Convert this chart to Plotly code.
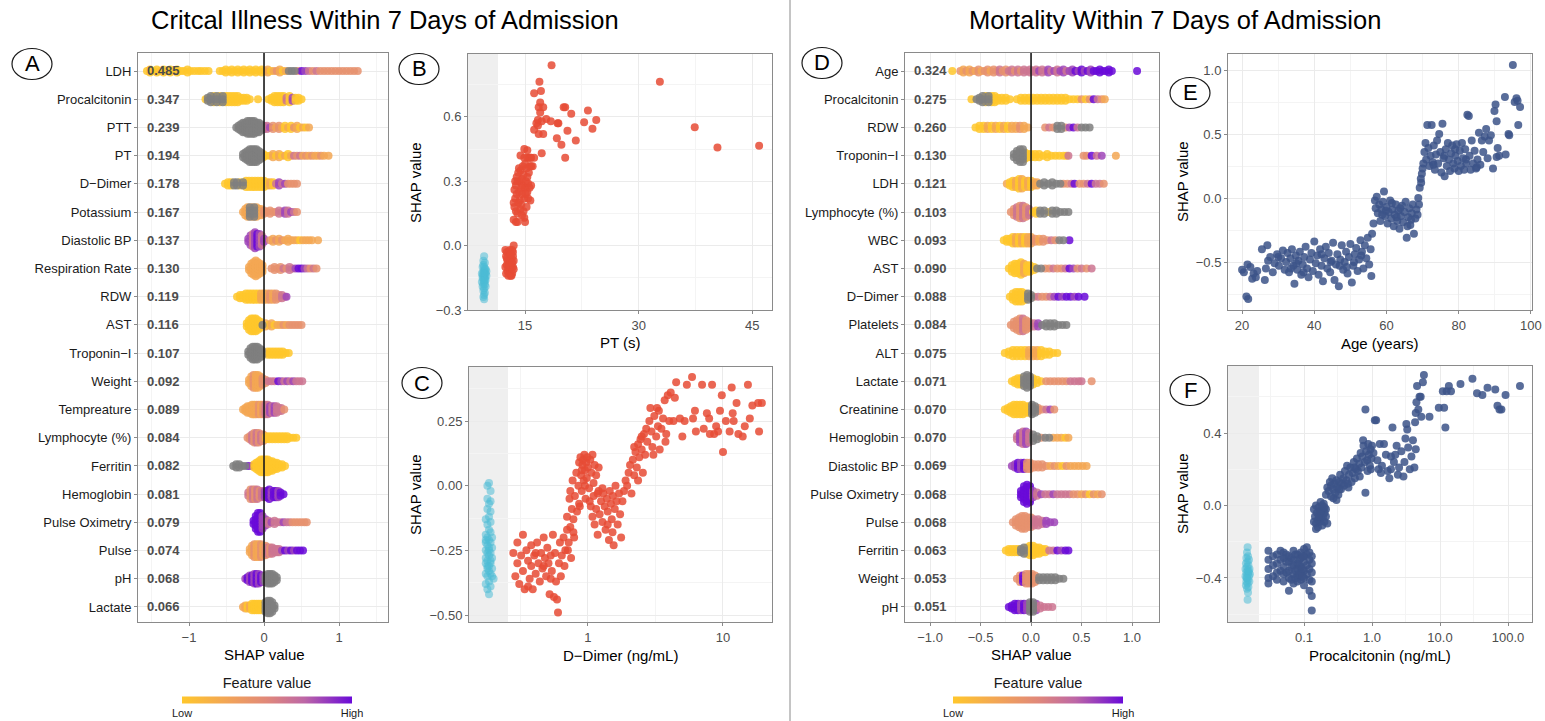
import re
import plotly.graph_objects as go

W, H = 1545, 721

# ------------------------------------------------------------------ data
A_features = ["LDH", "Procalcitonin", "PTT", "PT", "D\u2212Dimer", "Potassium", "Diastolic BP",
              "Respiration Rate", "RDW", "AST", "Troponin\u2212I", "Weight", "Tempreature",
              "Lymphocyte (%)", "Ferritin", "Hemoglobin", "Pulse Oximetry", "Pulse", "pH", "Lactate"]
A_importance = ["0.485", "0.347", "0.239", "0.194", "0.178", "0.167", "0.137", "0.130", "0.119", "0.116",
                "0.107", "0.092", "0.089", "0.084", "0.082", "0.081", "0.079", "0.074", "0.068", "0.066"]
# token = SHAP value + feature-value level letter (y,o,s,p,v,u ; g = missing) + count
A_points = [
    "-1.56y -1.52y2 -1.47y -1.43y2 -1.38y -1.34y2 -1.29y -1.25y2 -1.20y -1.16y2 -1.11y -1.07y -1.02y2 -0.98y -0.93y -0.88y -0.84y -0.79y -0.74y -0.59y -0.55y -0.51y2 -0.47y -0.43y2 -0.39y -0.35y2 -0.31y -0.27y2 -0.23y -0.19y2 -0.15y -0.11y2 -0.07y -0.03y2 0.01y 0.05o2 0.09y 0.13o 0.17s 0.21o2 0.25y 0.29o 0.33g 0.37g 0.41g 0.45s 0.50u 0.55v 0.60p 0.65s 0.70p 0.75s 0.80s 0.85s 0.90s 0.95s 1.00s 1.05s 1.10s 1.15s 1.20s 1.25s",
    "-0.78y -0.75g2 -0.71g3 -0.67y3 -0.63g3 -0.59y3 -0.55g3 -0.51y3 -0.47y3 -0.43y3 -0.39y3 -0.35y3 -0.31y2 -0.27y2 -0.23y2 -0.19y -0.08y 0.06y 0.10y2 0.14y3 0.18y3 0.22y3 0.26y3 0.30p2 0.34y3 0.38v2 0.42y2 0.46y2 0.50y",
    "-0.37g -0.34g2 -0.31g3 -0.28g4 -0.25g4 -0.22g5 -0.19g5 -0.16g5 -0.13g5 -0.10g4 -0.07g4 -0.04g3 0.00v2 0.04p2 0.08v 0.12s2 0.16o 0.20s2 0.24o 0.28y2 0.32o 0.36y2 0.40s 0.44o2 0.48y 0.52o 0.56y 0.60o",
    "-0.28g2 -0.25g3 -0.22g4 -0.19g5 -0.16g5 -0.13g5 -0.10g5 -0.07g4 -0.04g3 -0.01y2 0.03y 0.08y 0.12o2 0.16y 0.20o2 0.24y 0.28o 0.32y2 0.36o 0.40p 0.44s 0.48p 0.52o 0.56s 0.60o 0.64s 0.68o 0.72o 0.76s 0.80o 0.86o",
    "-0.52y -0.48y2 -0.44y2 -0.40g2 -0.36g2 -0.32y2 -0.28g2 -0.24y3 -0.20y3 -0.16y3 -0.12y3 -0.08y3 -0.04y3 0.00y3 0.04y2 0.08o2 0.12y2 0.16p 0.20v2 0.24p 0.28v 0.32s 0.36s 0.40s 0.44s",
    "-0.28o -0.25o3 -0.22o4 -0.19g4 -0.16o4 -0.13g4 -0.10o4 -0.07o3 -0.04o3 0.00s2 0.04s 0.08s2 0.12s 0.16s 0.20p2 0.24p 0.28v2 0.32p2 0.36v 0.40p 0.44s",
    "-0.21v2 -0.18v4 -0.15p5 -0.12v6 -0.09u5 -0.06v5 -0.03p4 0.00v2 0.08s 0.12o2 0.16s 0.20o2 0.24s 0.28o 0.32o2 0.36o 0.40o 0.44o 0.48y 0.52o 0.56o 0.60o 0.64o 0.72o",
    "-0.20o2 -0.17o4 -0.14o5 -0.11o6 -0.08o5 -0.05o4 -0.02o3 0.10s 0.14s2 0.18s 0.22s2 0.26p 0.30s 0.34p2 0.38p 0.42v 0.46u 0.50u 0.54v 0.58p 0.62s 0.66p 0.70s",
    "-0.36y -0.32y2 -0.28y2 -0.24y3 -0.20y3 -0.16y3 -0.12y3 -0.08y3 -0.04o3 0.00o3 0.04o3 0.08s3 0.12o3 0.16s3 0.20s2 0.24p2 0.28p 0.30v",
    "-0.23y2 -0.20y4 -0.17y5 -0.14y5 -0.11y5 -0.08y4 -0.05y3 -0.02g 0.02o2 0.06y 0.10o2 0.14y 0.18o 0.22o 0.26s 0.30o 0.34s 0.38s 0.42s 0.46s 0.50s",
    "-0.21g2 -0.18g4 -0.15g5 -0.12g5 -0.09g5 -0.06g4 -0.03g3 0.01p 0.05y2 0.09y2 0.13y2 0.17y2 0.21y2 0.25y2 0.29y 0.33y",
    "-0.20o2 -0.17o4 -0.14s5 -0.11o5 -0.08o5 -0.05o4 -0.02s3 0.02s2 0.06p 0.10p 0.14p 0.19u 0.23v 0.27p 0.31v 0.35p 0.39v 0.43p 0.47p 0.51p",
    "-0.28o -0.25o2 -0.22o3 -0.19o3 -0.16o4 -0.13o4 -0.10o4 -0.07s4 -0.04o4 -0.01s4 0.02p4 0.05p4 0.08v3 0.11p3 0.14v3 0.17p3 0.20p2 0.23p2 0.27s",
    "-0.22s -0.19s2 -0.16p3 -0.13s4 -0.10p4 -0.07s4 -0.04p3 -0.01s3 0.03y2 0.07y2 0.11y2 0.15y2 0.19y2 0.23y2 0.27y2 0.31y2 0.35y 0.39y 0.43y",
    "-0.41g -0.37g2 -0.33g2 -0.29g -0.25g -0.21u -0.17v -0.13y2 -0.10y3 -0.07y4 -0.04y5 -0.01y5 0.02y5 0.05y5 0.08y4 0.11y4 0.14y3 0.17y3 0.20y2 0.24y2 0.28y",
    "-0.21p2 -0.18s4 -0.15p4 -0.12s4 -0.09p4 -0.06s3 -0.03p3 0.01v3 0.04u3 0.07u4 0.10v3 0.13u3 0.16u3 0.19v3 0.22u2 0.26u",
    "-0.14u2 -0.11u5 -0.08u7 -0.05u7 -0.02v5 0.02v3 0.06p2 0.10v 0.14p2 0.18p 0.22p 0.26v 0.30p 0.34p 0.38s 0.42s 0.46s 0.50s 0.54s 0.57s",
    "-0.19o2 -0.16o4 -0.13s5 -0.10o5 -0.07o5 -0.04s5 -0.01o4 0.02s4 0.05p3 0.08s3 0.11p3 0.14p2 0.17p2 0.20p2 0.24v 0.28u 0.32v 0.36u 0.40v 0.44u 0.48u 0.52u",
    "-0.25v -0.22u2 -0.19v3 -0.16u3 -0.13v4 -0.10u4 -0.07v4 -0.04u3 -0.01v3 0.02g3 0.05g4 0.08g4 0.11g4 0.14g3 0.17g2",
    "-0.28o -0.25o2 -0.22y2 -0.19o2 -0.16y3 -0.13y3 -0.10y3 -0.07y3 -0.04y3 -0.01y2 0.02g4 0.05g5 0.08g5 0.11g4 0.14g2",
]

D_features = ["Age", "Procalcitonin", "RDW", "Troponin\u2212I", "LDH", "Lymphocyte (%)", "WBC", "AST",
              "D\u2212Dimer", "Platelets", "ALT", "Lactate", "Creatinine", "Hemoglobin", "Diastolic BP",
              "Pulse Oximetry", "Pulse", "Ferritin", "Weight", "pH"]
D_importance = ["0.324", "0.275", "0.260", "0.130", "0.121", "0.103", "0.093", "0.090", "0.088", "0.084",
                "0.075", "0.071", "0.070", "0.070", "0.069", "0.068", "0.068", "0.063", "0.053", "0.051"]
D_points = [
    "-0.78y -0.70s -0.67o2 -0.64s -0.61o2 -0.58s -0.55o -0.52s2 -0.49o -0.46s -0.43s2 -0.40o -0.37s2 -0.34s -0.31p2 -0.28s -0.25s2 -0.22p -0.19p2 -0.16s -0.13p2 -0.10s -0.07p2 -0.04p -0.01p2 0.02p 0.05p2 0.08v 0.11p2 0.14p 0.17v2 0.20p 0.23v 0.26p2 0.29v 0.32v2 0.35p 0.38v 0.41v2 0.44u 0.47v 0.50u2 0.53v 0.56u 0.59v2 0.62u 0.65u 0.68u2 0.71u 0.74u 0.77u2 0.80u 1.05u",
    "-0.59y -0.54g -0.51g2 -0.48g3 -0.45y3 -0.42g3 -0.39y3 -0.36y3 -0.33y2 -0.29y2 -0.25y2 -0.21y -0.14y -0.10y2 -0.06y2 -0.02y2 0.02y2 0.06y2 0.10y2 0.14y2 0.18y2 0.22y2 0.26y2 0.30y2 0.34y2 0.38y 0.42y 0.46y 0.50s 0.54y 0.58s 0.62u 0.66p 0.70s 0.73o",
    "-0.55y -0.51y2 -0.47y2 -0.43o2 -0.39y2 -0.35o2 -0.31y2 -0.27o2 -0.23y2 -0.19o2 -0.15o2 -0.11s2 -0.07o2 -0.03o 0.14s 0.18p 0.22s 0.26g2 0.30g2 0.34s 0.38v 0.42u 0.46p 0.50g 0.54g 0.58g",
    "-0.17g2 -0.14g4 -0.11g5 -0.08g5 -0.06y3 -0.03y2 0.00y2 0.04y2 0.08y2 0.12y 0.16y2 0.20y 0.24y 0.28y 0.32y 0.35y 0.37p 0.52s 0.55s 0.60u 0.65p 0.70v 0.84o",
    "-0.24o -0.21y2 -0.18y3 -0.15o3 -0.12y4 -0.09o4 -0.06y3 -0.03o3 0.00y3 0.03o2 0.06o2 0.09g 0.13g2 0.17g 0.21g2 0.25g 0.29g 0.32s 0.36s 0.40p 0.43u 0.48s 0.52s 0.56p 0.60u 0.64p 0.68p 0.72s",
    "-0.20s -0.17s3 -0.14p4 -0.11s5 -0.08p5 -0.05s4 -0.02p3 0.02y 0.05y2 0.09g2 0.13g2 0.17y 0.21g2 0.25g2 0.29g 0.33g 0.37g",
    "-0.27y -0.24y2 -0.21y2 -0.18y3 -0.15o3 -0.12y3 -0.09o3 -0.06y3 -0.03o3 0.00o3 0.04s2 0.08o2 0.12s2 0.16s 0.20p 0.24s 0.28g 0.32g 0.38u",
    "-0.22y -0.19y3 -0.16y4 -0.13y4 -0.10y5 -0.07o4 -0.04y3 -0.01y3 0.03y2 0.06g 0.10g 0.14s 0.18s 0.22p 0.26s 0.30s 0.34p 0.38u 0.42v 0.46s 0.50p 0.55s 0.60p",
    "-0.21y -0.18y3 -0.15y4 -0.12y4 -0.09y4 -0.06y3 -0.03g3 0.00g2 0.03s 0.07p 0.11s 0.15s 0.19p 0.23v 0.27u 0.31v 0.35u 0.39u 0.43v 0.47u 0.53u",
    "-0.20s -0.17s3 -0.14s4 -0.11s5 -0.08p5 -0.05s4 -0.02s3 0.03p2 0.07v2 0.11g 0.15g2 0.19g2 0.23g2 0.27g 0.31g 0.35g",
    "-0.26y -0.22y2 -0.18y3 -0.14y3 -0.10y3 -0.06y3 -0.02o3 0.02o3 0.06o3 0.10y3 0.14y2 0.18y2 0.22y 0.26y",
    "-0.19y -0.16y2 -0.13y3 -0.10y3 -0.07g4 -0.04g5 -0.01g4 0.02y3 0.06y2 0.10y 0.15s 0.19s 0.23s 0.27s 0.31s 0.35s 0.39p 0.43p 0.47p 0.50p 0.60s",
    "-0.26y -0.23y2 -0.20y3 -0.17y4 -0.14y4 -0.11y4 -0.08y4 -0.05y3 -0.02y3 0.01g4 0.04g3 0.07s2 0.11s 0.15p 0.19v 0.23s",
    "-0.14p2 -0.11v4 -0.08p5 -0.05v5 -0.02p4 0.02g3 0.06g2 0.10s 0.14g 0.18g 0.22o 0.26o 0.30o 0.34y 0.37o",
    "-0.19v -0.16v2 -0.13u3 -0.10v3 -0.07u3 -0.04s3 -0.01s3 0.03s2 0.07s2 0.11s2 0.15s 0.19o 0.23s 0.27o 0.31y 0.35s 0.39o 0.43o 0.47o 0.51o 0.55o",
    "-0.10u3 -0.07u6 -0.04u7 -0.01u6 0.02v3 0.06p2 0.10v 0.14p 0.18p 0.22v 0.26p 0.30p 0.34p 0.38p 0.42s 0.46s 0.50o 0.54s 0.58y 0.62s 0.66o 0.70s",
    "-0.18s -0.15s3 -0.12s4 -0.09s5 -0.06s5 -0.03s4 0.00s4 0.03p3 0.07p3 0.11p2 0.15v2 0.19v 0.23v",
    "-0.25y -0.22y2 -0.19y2 -0.16y2 -0.13y2 -0.10g2 -0.07g3 -0.04y3 -0.01y4 0.02y4 0.05y3 0.08y3 0.11y2 0.14y2 0.18p 0.22p 0.26u 0.30v 0.34u 0.37u",
    "-0.14s -0.11s3 -0.08u3 -0.05s4 -0.02s4 0.01s4 0.04s3 0.08g2 0.12g2 0.16g2 0.20g2 0.24g2 0.28g 0.32g",
    "-0.22u -0.19u2 -0.16u3 -0.13u3 -0.10v3 -0.07u3 -0.04v3 -0.01g4 0.02g4 0.05v3 0.09p2 0.13p 0.17p 0.21p",
]
LEVELS = {"y": 0.0, "o": 0.25, "s": 0.42, "p": 0.62, "v": 0.82, "u": 1.0}

# Panel B: PT (s) vs SHAP
B_missing = [(9.6,-0.05),(9.5,-0.07),(9.7,-0.08),(9.4,-0.10),(9.6,-0.10),(9.8,-0.11),(9.5,-0.12),(9.7,-0.13),
             (9.3,-0.13),(9.6,-0.14),(9.9,-0.14),(9.4,-0.15),(9.7,-0.15),(9.5,-0.16),(9.8,-0.16),(9.6,-0.17),
             (9.3,-0.17),(9.7,-0.18),(9.5,-0.18),(9.9,-0.12),(9.4,-0.19),(9.6,-0.20),(9.8,-0.19),(9.5,-0.21),
             (9.7,-0.22),(9.6,-0.23),(9.5,-0.24),(9.6,-0.25),(9.6,-0.12),(9.5,-0.09),(9.7,-0.11),(9.4,-0.14),
             (9.8,-0.13),(9.6,-0.15),(9.5,-0.13),(9.7,-0.16)]
B_points = [(12.4,-0.02),(12.5,-0.05),(12.6,-0.09),(12.7,-0.12),(12.8,-0.03),(12.9,-0.07),(13.0,-0.11),(13.1,-0.14),
            (13.2,-0.06),(13.3,-0.02),(13.4,-0.10),(13.5,0.00),(12.5,-0.13),(12.7,-0.07),(12.9,-0.04),(13.0,-0.13),
            (13.2,-0.10),(13.4,-0.05),(12.6,-0.03),(12.8,-0.10),(13.1,-0.08),(13.3,-0.13),(13.5,-0.07),(12.4,-0.10),
            (12.6,-0.06),(13.0,-0.02),(13.2,-0.14),(13.4,-0.03),(12.8,-0.14),(13.1,-0.04),(13.5,-0.11),(12.9,-0.09),
            (13.3,-0.08),
            (13.5,0.12),(13.6,0.18),(13.7,0.22),(13.8,0.28),(13.9,0.32),(14.0,0.15),(14.1,0.20),(14.2,0.25),
            (14.3,0.30),(14.4,0.35),(14.5,0.19),(14.6,0.24),(14.7,0.28),(14.8,0.33),(14.9,0.22),(15.0,0.27),
            (15.1,0.30),(15.2,0.36),(15.3,0.25),(15.4,0.29),(15.5,0.34),(15.6,0.37),(15.7,0.21),(15.8,0.37),
            (13.6,0.26),(13.8,0.16),(14.0,0.30),(14.2,0.36),(14.4,0.17),(14.6,0.31),(14.8,0.16),(15.0,0.11),
            (15.2,0.18),(15.4,0.22),(15.6,0.27),(13.7,0.30),(13.9,0.24),(14.1,0.34),(14.3,0.21),(14.5,0.27),
            (14.7,0.37),(14.9,0.13),(15.1,0.24),(15.3,0.32),(15.5,0.41),(14.4,0.42),(14.9,0.45),(15.3,0.41),
            (15.7,0.41),(13.5,0.20),(14.0,0.11),(14.6,0.14),(15.0,0.38),(15.8,0.28),(16.0,0.37),(13.8,0.11),
            (18.5,0.84),(16.9,0.764),(17.1,0.72),(16.2,0.71),(17.0,0.667),(16.8,0.645),(17.4,0.645),(17.0,0.62),
            (16.7,0.585),(17.2,0.58),(17.8,0.59),(18.4,0.58),(19.4,0.57),(20.1,0.645),(20.3,0.645),(21.1,0.615),
            (23.3,0.63),(22.8,0.575),(24.4,0.585),(23.9,0.545),(20.6,0.535),(19.2,0.50),(19.8,0.47),(21.7,0.49),
            (20.3,0.41),(17.2,0.43),(16.2,0.54),(16.8,0.52),(17.4,0.52),(16.7,0.56),(15.8,0.41),(16.2,0.41),
            (15.3,0.445),(14.9,0.41),(16.5,0.57),(19.3,0.57),
            (32.8,0.764),(37.4,0.552),(40.4,0.457),(45.9,0.465)]

# Panel C: D-Dimer (ng/mL) vs SHAP
C_missing = [(0.185,0.01),(0.18,0.00),(0.19,-0.02),(0.18,-0.05),(0.19,-0.06),(0.185,-0.07),(0.18,-0.09),(0.19,-0.10),
             (0.185,-0.12),(0.175,-0.13),(0.19,-0.14),(0.18,-0.15),(0.185,-0.17),(0.19,-0.18),(0.175,-0.19),(0.18,-0.20),
             (0.195,-0.20),(0.185,-0.21),(0.175,-0.22),(0.19,-0.22),(0.18,-0.23),(0.185,-0.24),(0.195,-0.24),(0.175,-0.25),
             (0.18,-0.26),(0.19,-0.26),(0.185,-0.27),(0.175,-0.28),(0.195,-0.28),(0.18,-0.29),(0.19,-0.30),(0.175,-0.30),
             (0.185,-0.31),(0.18,-0.32),(0.195,-0.32),(0.185,-0.33),(0.175,-0.34),(0.19,-0.34),(0.18,-0.35),(0.2,-0.36),
             (0.185,-0.37),(0.175,-0.38),(0.19,-0.39),(0.18,-0.40),(0.185,-0.42),(0.19,-0.29),(0.18,-0.31),(0.185,-0.25),
             (0.175,-0.21),(0.195,-0.35)]
C_points = [(0.28,-0.26),(0.29,-0.35),(0.30,-0.30),(0.30,-0.22),(0.31,-0.38),(0.32,-0.27),(0.33,-0.33),(0.33,-0.19),
            (0.34,-0.40),(0.35,-0.25),(0.36,-0.29),(0.37,-0.36),(0.38,-0.23),(0.38,-0.31),(0.39,-0.40),(0.40,-0.27),
            (0.41,-0.34),(0.42,-0.22),(0.43,-0.30),(0.44,-0.37),(0.45,-0.26),(0.46,-0.32),(0.47,-0.20),(0.48,-0.28),
            (0.49,-0.35),(0.50,-0.24),(0.51,-0.30),(0.52,-0.42),(0.53,-0.27),(0.54,-0.33),(0.55,-0.19),(0.56,-0.43),
            (0.57,-0.26),(0.58,-0.37),(0.59,-0.44),(0.60,-0.49),(0.61,-0.30),(0.62,-0.22),(0.63,-0.35),(0.64,-0.27),
            (0.66,-0.20),(0.67,-0.31),(0.68,-0.25),(0.70,-0.17),(0.36,-0.39),(0.41,-0.26),(0.47,-0.31),(0.53,-0.36),
            (0.70,-0.12),(0.72,-0.22),(0.73,-0.05),(0.74,-0.16),(0.75,-0.28),(0.76,-0.09),(0.77,0.02),(0.78,-0.13),
            (0.79,-0.20),(0.80,-0.04),(0.82,0.05),(0.83,-0.10),(0.85,0.00),(0.86,-0.07),(0.71,-0.25),(0.74,-0.02),
            (0.78,-0.18),
            (0.86,0.09),(0.88,0.11),(0.89,0.04),(0.90,-0.02),(0.91,0.08),(0.92,0.10),(0.93,0.02),(0.94,0.12),
            (0.95,0.06),(0.96,-0.05),(0.97,0.09),(0.98,0.03),(0.99,0.11),(1.00,0.07),(1.02,-0.01),(1.04,0.10),
            (1.06,0.05),(1.08,0.12),(1.10,0.01),(1.12,0.08),(1.15,0.04),(1.18,-0.03),(1.20,0.07),(0.87,-0.08),
            (0.95,0.00),(1.03,-0.06),(0.90,0.06),
            (1.05,-0.08),(1.08,-0.12),(1.10,-0.04),(1.12,-0.15),(1.15,-0.09),(1.18,-0.19),(1.20,-0.02),(1.22,-0.11),
            (1.25,-0.06),(1.28,-0.14),(1.30,-0.03),(1.33,-0.08),(1.35,-0.17),(1.38,-0.05),(1.40,-0.10),(1.43,-0.21),
            (1.45,-0.02),(1.48,-0.07),(1.50,-0.13),(1.53,-0.04),(1.55,-0.23),(1.58,-0.09),(1.60,0.00),(1.63,-0.06),
            (1.66,-0.15),(1.70,-0.03),(1.73,-0.11),(1.76,-0.20),(1.80,-0.06),(1.85,-0.02),(1.90,0.02),(1.28,-0.01),
            (1.40,-0.15),(1.52,-0.18),
            (1.95,0.00),(2.00,0.05),(2.05,0.08),(2.10,-0.03),(2.15,0.10),(2.20,0.04),(2.25,0.13),(2.30,0.07),
            (2.35,0.16),(2.40,0.11),(2.45,0.18),(2.50,0.14),(2.55,0.05),(2.60,0.20),(2.65,0.12),(2.70,0.22),
            (2.20,0.15),(2.35,0.02),(2.50,0.19),
            (2.75,0.17),(2.85,0.25),(2.90,0.30),(2.95,0.21),(3.00,0.15),(3.10,0.27),(3.20,0.19),(3.30,0.23),
            (3.35,0.29),(3.40,0.14),(3.50,0.22),(3.60,0.26),(3.70,0.33),(3.80,0.20),(3.90,0.35),(4.00,0.25),
            (4.10,0.36),(3.05,0.12),(3.25,0.30),(3.75,0.17),
            (4.5,0.40),(5.9,0.42),(5.4,0.39),(7.0,0.39),(8.3,0.39),(11.6,0.38),(15.3,0.39),(9.8,0.35),
            (12.6,0.32),(18.2,0.32),(19.4,0.32),(7.6,0.28),(6.2,0.29),(4.3,0.25),(4.8,0.26),(5.0,0.19),
            (6.0,0.26),(6.3,0.21),(7.2,0.22),(7.9,0.26),(8.6,0.20),(8.9,0.23),(9.5,0.29),(10.0,0.13),
            (10.5,0.25),(11.2,0.21),(11.8,0.28),(13.0,0.20),(14.0,0.19),(14.5,0.23),(15.8,0.26),(18.5,0.21),
            (16.5,0.31),(4.4,0.34),(5.2,0.25),(8.0,0.20),(12.0,0.25),(9.2,0.21)]

# Panel E: Age (years) vs SHAP
E_points = [(20.0,-0.56),(20.5,-0.58),(21.2,-0.77),(21.7,-0.79),(21.5,-0.52),(22.3,-0.54),(22.8,-0.63),(23.2,-0.59),
            (23.8,-0.62),(24.2,-0.57),(25.5,-0.40),(26.3,-0.64),(26.6,-0.55),(27.0,-0.37),(27.2,-0.49),(27.8,-0.46),
            (28.5,-0.58),(29.0,-0.51),(29.7,-0.44),(30.2,-0.53),(30.8,-0.47),(31.3,-0.41),(31.8,-0.56),(32.2,-0.50),
            (32.6,-0.43),(33.0,-0.58),(33.4,-0.47),(33.8,-0.40),(34.2,-0.53),(34.5,-0.67),(34.9,-0.45),(35.3,-0.56),
            (35.6,-0.49),(36.0,-0.42),(36.4,-0.60),(36.8,-0.52),(37.2,-0.46),(37.6,-0.38),(38.0,-0.55),(38.4,-0.62),
            (38.8,-0.48),(39.2,-0.43),(39.6,-0.57),(40.0,-0.34),(40.4,-0.51),(40.8,-0.45),(41.2,-0.60),(41.6,-0.40),
            (42.0,-0.53),(42.4,-0.65),(42.8,-0.47),(43.2,-0.38),(43.6,-0.55),(44.0,-0.43),(44.4,-0.58),(44.8,-0.49),
            (45.2,-0.35),(45.6,-0.64),(46.0,-0.52),(46.4,-0.44),(46.8,-0.69),(47.2,-0.48),(47.6,-0.37),(48.0,-0.56),
            (48.4,-0.50),(48.8,-0.42),(49.2,-0.59),(49.6,-0.46),(50.0,-0.36),(50.4,-0.66),(50.8,-0.53),(51.2,-0.44),
            (51.6,-0.39),(52.0,-0.57),(52.4,-0.48),(52.8,-0.33),(53.2,-0.42),(53.6,-0.55),(54.0,-0.37),(54.4,-0.47),
            (54.8,-0.31),(55.2,-0.52),(55.6,-0.40),(55.8,-0.61),(56.0,-0.28),(33.5,-0.55),(37.0,-0.58),(44.5,-0.50),
            (51.0,-0.50),(47.0,-0.53),(30.0,-0.46),(35.0,-0.51),(42.0,-0.44),(49.0,-0.54),(53.0,-0.45),
            (56.4,-0.20),(56.8,-0.02),(57.0,-0.08),(57.3,0.01),(57.6,-0.12),(58.0,-0.05),(58.3,-0.18),(58.6,-0.09),
            (59.0,-0.03),(59.3,0.05),(59.6,-0.14),(60.0,-0.07),(60.3,-0.20),(60.6,-0.11),(61.0,-0.02),(61.3,-0.16),
            (61.6,-0.09),(62.0,-0.22),(62.3,-0.13),(62.6,-0.05),(63.0,-0.18),(63.3,-0.10),(63.6,-0.24),(64.0,-0.14),
            (64.3,-0.06),(64.6,-0.19),(65.0,-0.11),(65.3,-0.03),(65.6,-0.31),(66.0,-0.15),(66.3,-0.08),(66.6,-0.21),
            (67.0,-0.12),(67.3,-0.05),(67.6,-0.28),(68.0,-0.16),(68.3,-0.09),(68.6,-0.13),(61.5,-0.04),(63.8,-0.08),
            (66.8,-0.17),(59.8,-0.10),(62.8,-0.15),(65.8,-0.22),(58.8,-0.13),
            (68.8,0.00),(69.2,0.08),(69.5,0.15),(69.8,0.19),(70.0,0.23),(69.0,-0.05),(69.6,0.12),(70.2,0.27),
            (70.5,0.36),(70.8,0.43),(71.0,0.30),(71.3,0.57),(71.6,0.39),(71.9,0.25),(72.2,0.33),(72.5,0.57),
            (72.8,0.28),(73.1,0.41),(73.4,0.22),(73.7,0.34),(74.0,0.45),(74.3,0.27),(74.6,0.50),(74.9,0.36),
            (75.2,0.20),(75.5,0.58),(75.8,0.31),(76.1,0.17),(76.4,0.38),(76.7,0.25),(77.0,0.43),(77.3,0.30),
            (77.6,0.21),(77.9,0.35),(78.2,0.41),(78.5,0.27),(78.8,0.23),(79.1,0.33),(79.4,0.42),(79.7,0.29),
            (80.0,0.21),(80.3,0.37),(80.6,0.25),(80.9,0.43),(81.2,0.31),(81.5,0.22),(81.8,0.38),(82.1,0.27),
            (82.4,0.65),(82.8,0.64),(83.0,0.33),(83.3,0.22),(83.6,0.45),(84.0,0.27),(84.4,0.37),(84.8,0.23),
            (85.2,0.30),(85.6,0.51),(86.0,0.26),(86.4,0.45),(86.8,0.36),(73.0,0.26),(76.0,0.33),(79.0,0.38),
            (82.0,0.30),(85.0,0.24),
            (87.2,0.48),(87.6,0.54),(88.0,0.31),(88.4,0.45),(88.9,0.49),(89.5,0.23),(89.9,0.68),(90.2,0.73),
            (90.5,0.60),(90.8,0.39),(91.2,0.33),(90.5,0.32),(92.8,0.79),(93.0,0.34),(93.8,0.50),(94.0,0.49),
            (95.0,1.04),(95.5,0.75),(96.0,0.78),(96.3,0.76),(96.5,0.57),(97.0,0.71)]

# Panel F: Procalcitonin (ng/mL) vs SHAP
F_missing = [(0.0148,-0.23),(0.0145,-0.26),(0.015,-0.28),(0.0142,-0.29),(0.0155,-0.30),(0.0148,-0.31),(0.014,-0.32),
             (0.0152,-0.33),(0.0145,-0.34),(0.0158,-0.35),(0.0138,-0.35),(0.0148,-0.36),(0.0153,-0.37),(0.0142,-0.37),
             (0.016,-0.38),(0.0148,-0.38),(0.0138,-0.39),(0.0155,-0.39),(0.0145,-0.40),(0.015,-0.41),(0.0142,-0.42),
             (0.0157,-0.42),(0.0148,-0.43),(0.014,-0.44),(0.0152,-0.45),(0.0145,-0.46),(0.015,-0.48),(0.0148,-0.52),
             (0.0143,-0.40),(0.0154,-0.36)]
F_points = [(0.03,-0.25),(0.03,-0.30),(0.03,-0.35),(0.03,-0.40),(0.03,-0.43),(0.04,-0.27),(0.04,-0.32),(0.04,-0.37),
            (0.04,-0.41),(0.05,-0.26),(0.05,-0.29),(0.05,-0.34),(0.05,-0.38),(0.05,-0.42),(0.06,-0.28),(0.06,-0.31),
            (0.06,-0.36),(0.06,-0.40),(0.06,-0.47),(0.07,-0.25),(0.07,-0.30),(0.07,-0.33),(0.07,-0.38),(0.07,-0.43),
            (0.08,-0.27),(0.08,-0.32),(0.08,-0.35),(0.08,-0.39),(0.08,-0.42),(0.09,-0.26),(0.09,-0.29),(0.09,-0.34),
            (0.09,-0.37),(0.09,-0.41),(0.10,-0.24),(0.10,-0.28),(0.10,-0.31),(0.10,-0.36),(0.10,-0.40),(0.10,-0.44),
            (0.11,-0.23),(0.11,-0.27),(0.11,-0.33),(0.11,-0.38),(0.12,-0.26),(0.12,-0.30),(0.12,-0.35),(0.12,-0.41),
            (0.12,-0.47),(0.13,-0.28),(0.13,-0.32),(0.13,-0.37),(0.13,-0.42),(0.13,-0.50),(0.13,-0.58),(0.035,-0.28),
            (0.035,-0.33),(0.035,-0.39),(0.045,-0.30),(0.045,-0.36),(0.045,-0.25),(0.055,-0.31),(0.055,-0.37),
            (0.055,-0.27),(0.065,-0.29),(0.065,-0.34),(0.065,-0.41),(0.075,-0.27),(0.075,-0.36),(0.075,-0.40),
            (0.085,-0.30),(0.085,-0.33),(0.085,-0.38),(0.095,-0.28),(0.095,-0.35),(0.095,-0.39),
            (0.14,-0.02),(0.145,-0.06),(0.15,-0.10),(0.15,0.00),(0.155,-0.04),(0.16,-0.08),(0.16,-0.12),(0.165,-0.01),
            (0.17,-0.05),(0.17,-0.09),(0.175,0.02),(0.18,-0.03),(0.18,-0.07),(0.185,-0.11),(0.19,-0.02),(0.19,-0.06),
            (0.195,0.01),(0.20,-0.04),(0.20,-0.09),(0.21,-0.02),(0.21,-0.06),(0.22,-0.10),(0.14,-0.09),(0.15,-0.13),
            (0.165,-0.06),(0.175,-0.03),(0.185,0.00),(0.2,-0.01),
            (0.21,0.06),(0.22,0.10),(0.23,0.08),(0.24,0.13),(0.25,0.05),(0.25,0.11),(0.26,0.15),(0.27,0.09),
            (0.28,0.12),(0.29,0.07),(0.30,0.14),(0.31,0.10),(0.32,0.06),(0.33,0.13),(0.34,0.17),(0.35,0.09),
            (0.36,0.12),(0.38,0.15),(0.39,0.11),(0.40,0.19),(0.42,0.14),(0.43,0.22),(0.45,0.10),(0.46,0.17),
            (0.48,0.21),(0.50,0.13),(0.52,0.18),(0.54,0.24),(0.56,0.15),(0.58,0.20),(0.60,0.26),(0.62,0.19),
            (0.65,0.23),(0.68,0.29),(0.70,0.21),(0.72,0.27),(0.75,0.33),(0.78,0.24),(0.80,0.53),(0.80,0.07),
            (0.82,0.30),(0.85,0.25),(0.88,0.34),(0.90,0.28),(0.93,0.22),(0.95,0.31),(0.98,0.26),(1.0,0.33),
            (0.27,0.04),(0.30,0.03),(0.33,0.09),(0.44,0.12),(0.55,0.21),(0.66,0.16),(0.74,0.36),(0.86,0.19),
            (0.96,0.20),
            (1.05,0.29),(1.1,0.47),(1.15,0.47),(1.2,0.25),(1.25,0.20),(1.3,0.34),(1.4,0.22),(1.5,0.34),
            (1.6,0.28),(1.7,0.19),(1.8,0.15),(1.9,0.27),(2.0,0.43),(2.1,0.24),(2.2,0.28),(2.4,0.17),
            (2.5,0.21),(2.7,0.30),(2.9,0.16),(3.0,0.24),(3.1,0.37),(3.2,0.45),(3.4,0.32),(3.6,0.20),
            (3.8,0.27),(4.0,0.36),(4.2,0.21),(4.4,0.31),(1.35,0.18),(2.3,0.33),(3.3,0.42),(1.9,0.20),
            (4.5,0.57),(4.6,0.66),(5.0,0.60),(5.2,0.60),(5.3,0.49),(5.6,0.68),(5.8,0.72),(4.8,0.53),
            (4.3,0.46),(7.0,0.49),(9.6,0.54),(11.5,0.54),(12.0,0.43),(12.5,0.63),(13.5,0.66),(14.5,0.63),
            (20,0.67),(30,0.70),(35,0.62),(42,0.61),(50,0.65),(65,0.64),(70,0.55),(75,0.53),
            (80,0.53),(92,0.61),(150,0.66),(11,0.63),(4.4,0.51)]

# ------------------------------------------------------------------ styling
FONT = "Liberation Sans, Arial, Helvetica, sans-serif"
CSCALE = [[0.0, "#FFC72C"], [0.3, "#F0A05C"], [0.5, "#E0887A"], [0.72, "#BD67A6"], [1.0, "#6A0AD8"]]
GRAY = "#7F7F7F"
RED, CYAN, NAVY = "#E64B35", "#4DBBD5", "#3C5488"
ROW_DY = 0.112


def fx(p):
    return p / W


def fy(p):
    return 1 - p / H


def parse_swarm(rows):
    cx, cy, cc, gx, gy = [], [], [], [], []
    n_rows = len(rows)
    for i, row in enumerate(rows):
        base = n_rows - 1 - i
        for tok in row.split():
            m = re.fullmatch(r"(-?\d+\.\d+)([a-z])(\d*)", tok)
            x, c, n = float(m.group(1)), m.group(2), int(m.group(3) or 1)
            for k in range(n):
                yy = base + (k - (n - 1) / 2) * ROW_DY
                if c == "g":
                    gx.append(x)
                    gy.append(yy)
                else:
                    cx.append(x)
                    cy.append(yy)
                    cc.append(LEVELS[c])
    return cx, cy, cc, gx, gy


fig = go.Figure()


def add_swarm(rows, xa, ya, cb_center):
    cx, cy, cc, gx, gy = parse_swarm(rows)
    fig.add_trace(go.Scatter(x=cx, y=cy, mode="markers", xaxis=xa, yaxis=ya, hoverinfo="skip",
                             marker=dict(size=8, color=cc, colorscale=CSCALE, cmin=0, cmax=1, opacity=0.85,
                                         line=dict(width=0), showscale=True,
                                         colorbar=dict(orientation="h", x=fx(cb_center), xanchor="center",
                                                       y=fy(698), yanchor="middle", len=170, lenmode="pixels",
                                                       thickness=7, outlinewidth=0, xpad=0, ypad=0,
                                                       tickvals=[0, 1], ticktext=["Low", "High"], ticks="",
                                                       tickfont=dict(size=11, color="#1A1A1A", family=FONT),
                                                       title=dict(text="Feature value", side="top",
                                                                  font=dict(size=14.5, color="#1A1A1A", family=FONT))))))
    fig.add_trace(go.Scatter(x=gx, y=gy, mode="markers", xaxis=xa, yaxis=ya, hoverinfo="skip",
                             marker=dict(size=8, color=GRAY, opacity=0.85, line=dict(width=0))))


def add_scatter(pts, xa, ya, color, opacity):
    fig.add_trace(go.Scatter(x=[p[0] for p in pts], y=[p[1] for p in pts], mode="markers",
                             xaxis=xa, yaxis=ya, hoverinfo="skip",
                             marker=dict(size=8, color=color, opacity=opacity, line=dict(width=0))))


add_swarm(A_points, "x", "y", 267)
add_swarm(D_points, "x4", "y4", 1038)
add_scatter(B_missing, "x2", "y2", CYAN, 0.55)
add_scatter(B_points, "x2", "y2", RED, 0.85)
add_scatter(C_missing, "x3", "y3", CYAN, 0.55)
add_scatter(C_points, "x3", "y3", RED, 0.85)
add_scatter(E_points, "x5", "y5", NAVY, 0.85)
add_scatter(F_missing, "x6", "y6", CYAN, 0.55)
add_scatter(F_points, "x6", "y6", NAVY, 0.85)

base_ax = dict(showline=True, mirror=True, linecolor="#8A8A8A", linewidth=1, ticks="outside", ticklen=3,
               tickcolor="#8A8A8A", tickfont=dict(size=13, color="#4D4D4D", family=FONT),
               showgrid=True, gridcolor="#EBEBEB", gridwidth=1, zeroline=False, fixedrange=True)


def minor(vals):
    return dict(tickvals=vals, showgrid=True, gridcolor="#F4F4F4", gridwidth=0.6, ticks="")


def ax(**kw):
    d = dict(base_ax)
    d.update(kw)
    return d


nA = len(A_features)
layout_axes = dict(
    # A
    xaxis=ax(domain=[fx(138), fx(388)], range=[-1.68, 1.653], tickvals=[-1, 0, 1], anchor="y",
             minor=minor([-1.5, -0.5, 0.5, 1.5])),
    yaxis=ax(domain=[fy(622), fy(53)], range=[-0.532, 19.638], tickvals=list(range(nA)),
             ticktext=A_features[::-1], anchor="x", tickfont=dict(size=13, color="#1A1A1A", family=FONT)),
    # B
    xaxis2=ax(domain=[fx(468), fx(772)], range=[7.47, 47.6], tickvals=[15, 30, 45], anchor="y2",
              minor=minor([22.5, 37.5])),
    yaxis2=ax(domain=[fy(310), fy(54)], range=[-0.3, 0.893], tickvals=[-0.3, 0, 0.3, 0.6], tickformat=".1f",
              anchor="x2", minor=minor([-0.15, 0.15, 0.45, 0.75])),
    # C
    xaxis3=ax(domain=[fx(469), fx(772)], type="log", range=[-0.881, 1.363], tickvals=[1, 10],
              ticktext=["1", "10"], anchor="y3", minor=minor([0.316, 3.16])),
    yaxis3=ax(domain=[fy(622), fy(367)], range=[-0.527, 0.459], tickvals=[-0.5, -0.25, 0, 0.25],
              tickformat=".2f", anchor="x3", minor=minor([-0.375, -0.125, 0.125, 0.375])),
    # D
    xaxis4=ax(domain=[fx(905), fx(1159)], range=[-1.248, 1.267], tickvals=[-1, -0.5, 0, 0.5, 1],
              tickformat=".1f", anchor="y4", minor=minor([-0.75, -0.25, 0.25, 0.75])),
    yaxis4=ax(domain=[fy(622), fy(53)], range=[-0.532, 19.638], tickvals=list(range(len(D_features))),
              ticktext=D_features[::-1], anchor="x4", tickfont=dict(size=13, color="#1A1A1A", family=FONT)),
    # E
    xaxis5=ax(domain=[fx(1228), fx(1532)], range=[16.1, 100.3], tickvals=[20, 40, 60, 80, 100], anchor="y5",
              minor=minor([30, 50, 70, 90])),
    yaxis5=ax(domain=[fy(310), fy(54)], range=[-0.875, 1.125], tickvals=[-0.5, 0, 0.5, 1.0], tickformat=".1f",
              anchor="x5", minor=minor([-0.75, -0.25, 0.25, 0.75])),
    # F
    xaxis6=ax(domain=[fx(1228), fx(1532)], type="log", range=[-2.118, 2.353], tickvals=[0.1, 1, 10, 100],
              ticktext=["0.1", "1.0", "10.0", "100.0"], anchor="y6", minor=minor([0.0316, 0.316, 3.16, 31.6])),
    yaxis6=ax(domain=[fy(622), fy(366)], range=[-0.643, 0.77], tickvals=[-0.4, 0, 0.4], tickformat=".1f",
              anchor="x6", minor=minor([-0.6, -0.2, 0.2, 0.6])),
)

shapes = []
annotations = []

# grey bands marking missing values
for x0, x1, y0, y1 in [(468, 498, 54, 310), (469, 508, 367, 622), (1228, 1259, 366, 622)]:
    shapes.append(dict(type="rect", xref="paper", yref="paper", x0=fx(x0), x1=fx(x1), y0=fy(y1), y1=fy(y0),
                       fillcolor="#EFEFEF", line=dict(width=0), layer="below"))

# zero lines in swarm panels
for xa, ya in [("x", "y"), ("x4", "y4")]:
    shapes.append(dict(type="line", xref=xa, yref=f"{ya} domain", x0=0, x1=0, y0=0, y1=1,
                       line=dict(color="#1A1A1A", width=1.6), layer="above"))

# divider
shapes.append(dict(type="line", xref="paper", yref="paper", x0=fx(790), x1=fx(790), y0=0, y1=1,
                   line=dict(color="#8A8A8A", width=1)))

# panel letters
for letter, cx, cy in [("A", 32, 64), ("B", 419, 69), ("C", 422, 383), ("D", 822, 63), ("E", 1190, 93),
                       ("F", 1190, 390)]:
    shapes.append(dict(type="circle", xref="paper", yref="paper", x0=fx(cx - 20), x1=fx(cx + 20),
                       y0=fy(cy + 15.5), y1=fy(cy - 15.5), line=dict(color="#1A1A1A", width=1.2)))
    annotations.append(dict(text=letter, xref="paper", yref="paper", x=fx(cx), y=fy(cy), showarrow=False,
                            xanchor="center", yanchor="middle", font=dict(size=22, color="#000", family=FONT)))

# importance values
for feats, vals, xpx, ya in [(A_features, A_importance, 145, "y"), (D_features, D_importance, 912, "y4")]:
    n = len(feats)
    for i, v in enumerate(vals):
        annotations.append(dict(text=f"<b>{v}</b>", xref="paper", yref=ya, x=fx(xpx), y=n - 1 - i,
                                showarrow=False, xanchor="left", yanchor="middle",
                                font=dict(size=13, color="#4D4D4D", family=FONT)))

# titles
for text, xpx in [("Critcal Illness Within 7 Days of Admission", 385), ("Mortality Within 7 Days of Admission", 1175)]:
    annotations.append(dict(text=text, xref="paper", yref="paper", x=fx(xpx), y=fy(20), showarrow=False,
                            xanchor="center", yanchor="middle", font=dict(size=25.5, color="#000", family=FONT)))

# axis titles
for text, xpx, ypx in [("SHAP value", 264, 654), ("SHAP value", 1031, 654), ("PT (s)", 620, 342),
                       ("D\u2212Dimer (ng/mL)", 620, 655), ("Age (years)", 1380, 343),
                       ("Procalcitonin (ng/mL)", 1380, 655)]:
    annotations.append(dict(text=text, xref="paper", yref="paper", x=fx(xpx), y=fy(ypx), showarrow=False,
                            xanchor="center", yanchor="middle", font=dict(size=15, color="#000", family=FONT)))
for xpx, ypx in [(415, 182), (415, 494), (1182, 182), (1182, 494)]:
    annotations.append(dict(text="SHAP value", xref="paper", yref="paper", x=fx(xpx), y=fy(ypx), showarrow=False,
                            textangle=-90, xanchor="center", yanchor="middle",
                            font=dict(size=15, color="#000", family=FONT)))

fig.update_layout(width=W, height=H, margin=dict(l=0, r=0, t=0, b=0, autoexpand=False),
                  paper_bgcolor="white", plot_bgcolor="white", showlegend=False,
                  font=dict(family=FONT), shapes=shapes, annotations=annotations, **layout_axes)

fig.write_html("out.html")
